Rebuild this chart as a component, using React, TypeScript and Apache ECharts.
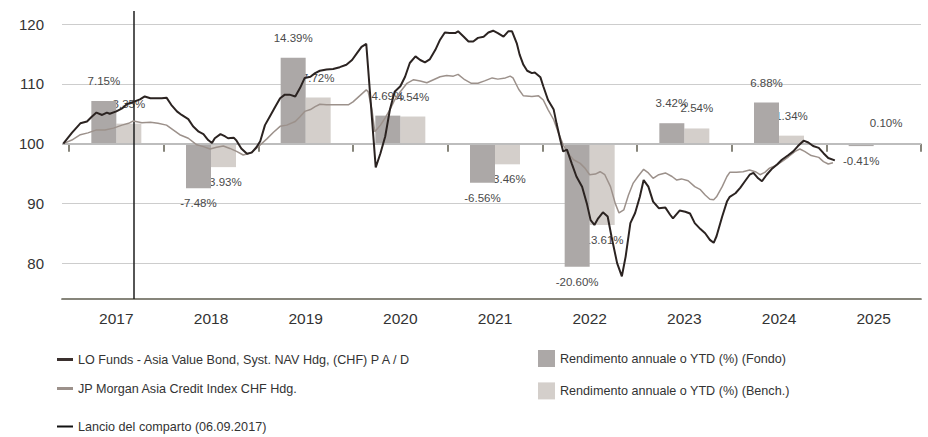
import React, { useEffect, useRef } from 'react';
import * as echarts from 'echarts';

const years = ['2017', '2018', '2019', '2020', '2021', '2022', '2023', '2024', '2025'];
const fundReturns = [7.15, -7.48, 14.39, 4.69, -6.56, -20.6, 3.42, 6.88, -0.41];
const benchReturns = [3.35, -3.93, 7.72, 4.54, -3.46, -13.61, 2.54, 1.34, 0.1];
const yTicks = [80, 90, 100, 110, 120];
const launchDate = 2017.682; // 06.09.2017 as fractional year

const fundName = 'LO Funds - Asia Value Bond, Syst. NAV Hdg, (CHF) P A / D';
const benchName = 'JP Morgan Asia Credit Index CHF Hdg.';
const fundBarName = 'Rendimento annuale o YTD (%) (Fondo)';
const benchBarName = 'Rendimento annuale o YTD (%) (Bench.)';
const launchName = 'Lancio del comparto (06.09.2017)';

// [fractional year, index value]
const fundLine: [number, number][] = [
  [2016.94, 100.0], [2017.03, 101.8], [2017.12, 103.4], [2017.19, 103.7], [2017.24, 104.5], [2017.29, 105.2],
  [2017.35, 104.8], [2017.4, 105.2], [2017.43, 105.0], [2017.5, 105.4], [2017.56, 105.9], [2017.61, 106.6],
  [2017.68, 107.0], [2017.75, 107.4], [2017.8, 107.9], [2017.86, 107.6], [2017.91, 107.6], [2017.98, 107.6],
  [2018.03, 107.7], [2018.08, 106.5], [2018.14, 105.4], [2018.19, 104.8], [2018.26, 104.1], [2018.31, 102.9],
  [2018.37, 102.0], [2018.42, 101.6], [2018.47, 100.6], [2018.51, 100.1], [2018.54, 100.9], [2018.6, 101.6],
  [2018.65, 101.2], [2018.68, 100.9], [2018.74, 101.0], [2018.77, 100.5], [2018.82, 99.2], [2018.88, 98.3],
  [2018.93, 98.5], [2018.98, 99.4], [2019.02, 100.4], [2019.07, 103.1], [2019.12, 104.5], [2019.18, 106.2],
  [2019.23, 107.6], [2019.28, 108.2], [2019.33, 108.2], [2019.39, 107.9], [2019.44, 109.3], [2019.49, 111.0],
  [2019.55, 111.2], [2019.6, 111.8], [2019.65, 112.2], [2019.72, 112.4], [2019.79, 112.5], [2019.86, 112.8],
  [2019.93, 113.2], [2019.99, 114.0], [2020.04, 115.1], [2020.09, 116.2], [2020.14, 116.7], [2020.24, 96.0],
  [2020.29, 98.4], [2020.34, 101.2], [2020.39, 105.7], [2020.44, 108.7], [2020.5, 109.6], [2020.55, 111.2],
  [2020.6, 113.5], [2020.66, 114.6], [2020.71, 114.0], [2020.76, 113.6], [2020.81, 114.1], [2020.87, 115.7],
  [2020.92, 117.4], [2020.97, 118.6], [2021.02, 118.5], [2021.08, 118.5], [2021.11, 118.8], [2021.17, 117.9],
  [2021.22, 117.1], [2021.27, 117.1], [2021.32, 117.7], [2021.38, 117.9], [2021.43, 118.6], [2021.48, 118.9],
  [2021.53, 118.5], [2021.59, 117.9], [2021.64, 118.8], [2021.68, 118.8], [2021.73, 116.8], [2021.76, 114.9],
  [2021.8, 113.2], [2021.84, 112.2], [2021.89, 111.8], [2021.92, 111.9], [2021.98, 111.1], [2022.01, 109.6],
  [2022.06, 107.3], [2022.12, 105.7], [2022.15, 103.4], [2022.19, 100.6], [2022.22, 98.7], [2022.26, 99.0],
  [2022.31, 96.7], [2022.36, 94.5], [2022.42, 92.8], [2022.47, 90.0], [2022.51, 87.2], [2022.55, 86.4],
  [2022.59, 87.5], [2022.64, 88.5], [2022.69, 87.8], [2022.73, 84.5], [2022.79, 80.0], [2022.84, 77.8],
  [2022.88, 81.1], [2022.93, 86.7], [2022.98, 88.4], [2023.03, 91.1], [2023.07, 93.9], [2023.12, 92.8],
  [2023.17, 90.3], [2023.23, 89.2], [2023.3, 89.3], [2023.35, 88.1], [2023.38, 87.5], [2023.45, 88.8],
  [2023.51, 88.6], [2023.56, 88.3], [2023.61, 86.7], [2023.67, 85.7], [2023.72, 85.0], [2023.77, 83.9],
  [2023.81, 83.4], [2023.84, 84.5], [2023.9, 87.8], [2023.95, 90.3], [2023.98, 91.1], [2024.04, 91.7],
  [2024.09, 92.6], [2024.14, 93.7], [2024.19, 94.8], [2024.23, 95.1], [2024.28, 94.2], [2024.32, 93.7],
  [2024.37, 94.8], [2024.42, 95.7], [2024.48, 96.5], [2024.53, 97.3], [2024.6, 98.1], [2024.65, 98.7],
  [2024.7, 99.6], [2024.76, 100.5], [2024.81, 100.2], [2024.86, 99.6], [2024.92, 99.3], [2024.97, 98.4],
  [2025.02, 97.6], [2025.09, 97.2],
];

const benchLine: [number, number][] = [
  [2016.94, 100.0], [2017.03, 100.6], [2017.12, 101.5], [2017.2, 101.8], [2017.29, 102.3], [2017.38, 102.3],
  [2017.47, 102.6], [2017.56, 103.1], [2017.63, 103.4], [2017.68, 103.8], [2017.77, 103.5], [2017.86, 103.6],
  [2017.94, 103.4], [2018.03, 103.1], [2018.1, 102.3], [2018.17, 101.5], [2018.26, 100.9], [2018.35, 99.8],
  [2018.42, 99.5], [2018.49, 99.1], [2018.56, 99.4], [2018.63, 99.6], [2018.7, 99.2], [2018.77, 98.7],
  [2018.84, 98.1], [2018.89, 98.3], [2018.95, 98.8], [2019.02, 99.8], [2019.09, 100.8], [2019.16, 101.9],
  [2019.23, 102.9], [2019.3, 103.1], [2019.39, 103.7], [2019.44, 104.5], [2019.49, 105.4], [2019.55, 105.7],
  [2019.6, 106.2], [2019.65, 106.6], [2019.72, 106.5], [2019.79, 106.5], [2019.88, 106.5], [2019.95, 106.5],
  [2020.0, 107.0], [2020.07, 108.0], [2020.14, 109.0], [2020.16, 108.7], [2020.2, 105.7], [2020.23, 102.0],
  [2020.29, 103.1], [2020.34, 104.3], [2020.39, 105.7], [2020.44, 107.3], [2020.5, 108.7], [2020.57, 110.1],
  [2020.64, 110.7], [2020.71, 110.5], [2020.78, 110.2], [2020.85, 110.7], [2020.92, 111.2], [2020.99, 111.4],
  [2021.06, 111.3], [2021.11, 111.6], [2021.18, 110.7], [2021.25, 110.1], [2021.32, 110.1], [2021.39, 110.5],
  [2021.47, 111.0], [2021.53, 110.8], [2021.61, 111.0], [2021.66, 111.3], [2021.69, 111.0], [2021.75, 109.1],
  [2021.8, 108.0], [2021.89, 107.9], [2021.96, 108.0], [2022.01, 107.3], [2022.06, 105.7], [2022.12, 104.0],
  [2022.17, 101.8], [2022.22, 99.8], [2022.27, 98.4], [2022.33, 97.3], [2022.4, 96.7], [2022.45, 95.9],
  [2022.5, 94.8], [2022.56, 94.9], [2022.61, 95.3], [2022.66, 94.8], [2022.72, 92.8], [2022.77, 90.0],
  [2022.81, 88.4], [2022.86, 88.9], [2022.91, 91.4], [2022.96, 93.4], [2023.01, 94.5], [2023.07, 95.7],
  [2023.12, 95.1], [2023.17, 94.2], [2023.23, 94.8], [2023.3, 95.1], [2023.37, 94.5], [2023.42, 93.9],
  [2023.47, 94.1], [2023.54, 93.8], [2023.61, 92.8], [2023.67, 92.3], [2023.72, 91.4], [2023.77, 90.7],
  [2023.81, 90.6], [2023.84, 91.1], [2023.9, 92.8], [2023.95, 94.5], [2023.98, 95.2], [2024.05, 95.2],
  [2024.12, 95.3], [2024.19, 95.6], [2024.25, 95.3], [2024.3, 94.8], [2024.35, 95.2], [2024.4, 95.9],
  [2024.46, 96.3], [2024.53, 97.0], [2024.6, 97.8], [2024.67, 98.7], [2024.72, 99.1], [2024.77, 98.7],
  [2024.84, 98.0], [2024.92, 97.7], [2024.97, 97.0], [2025.02, 96.6], [2025.07, 96.8],
];

const FONT = "'Liberation Sans', Arial, Helvetica, sans-serif";

const FUND_LINE_COLOR = '#2b2321';
const BENCH_LINE_COLOR = '#9c918b';
const FUND_BAR_COLOR = '#aca8a7';
const BENCH_BAR_COLOR = '#d4cfcb';
const AXIS_COLOR = '#5f5d4f';
const LABEL_COLOR = '#4a4a4a';

function barData(vals: number[]) {
  return vals.map((v) => ({
    value: v,
    label: { distance: v >= 0 ? 14 : 9, color: LABEL_COLOR },
  }));
}

const barLabel = {
  show: true,
  position: 'outside',
  fontFamily: FONT,
  fontSize: 11.5,
  color: LABEL_COLOR,
  textBorderWidth: 0,
  formatter: (p: any) => `${Number(p.value).toFixed(2)}%`,
};

const legendText = { fontFamily: FONT, fontSize: 12.6, color: '#333' };

export default function App() {
  const ref = useRef<HTMLDivElement>(null);

  useEffect(() => {
    document.body.style.margin = '0';
    if (!ref.current) return;
    const chart = echarts.init(ref.current, undefined, { renderer: 'svg' });
    const option: any = {
      animation: false,
      backgroundColor: '#ffffff',
      grid: [
        { left: 62, right: 7, top: 11, bottom: 138 },
        { left: 69, right: 7, top: 11, bottom: 138 },
      ],
      xAxis: [
        {
          type: 'value',
          gridIndex: 0,
          min: 2016.926,
          max: 2026.0,
          axisLine: { show: true, lineStyle: { color: AXIS_COLOR, width: 1.7 } },
          axisTick: { show: false },
          axisLabel: { show: false },
          splitLine: { show: false },
        },
        {
          type: 'category',
          gridIndex: 1,
          data: years,
          axisLine: { show: false },
          axisTick: { show: true, length: 8, lineStyle: { color: AXIS_COLOR, width: 1.5 } },
          axisLabel: { interval: 0, fontFamily: FONT, fontSize: 15.5, color: '#333', margin: 11 },
          splitLine: { show: false },
        },
      ],
      yAxis: [
        {
          type: 'value',
          gridIndex: 0,
          min: 74,
          max: 122.2,
          axisLine: { show: false },
          axisTick: { show: false, customValues: yTicks },
          axisLabel: { customValues: yTicks, fontFamily: FONT, fontSize: 15, color: '#333', margin: 18 },
          splitLine: { show: true, lineStyle: { color: '#cdcdcd', width: 1 } },
        },
        {
          type: 'value',
          gridIndex: 1,
          min: -26,
          max: 22.2,
          show: false,
          splitLine: { show: false },
        },
      ],
      legend: [
        {
          data: [fundName, benchName],
          orient: 'vertical',
          left: 57,
          top: 353,
          padding: 0,
          itemWidth: 16,
          itemHeight: 3,
          itemGap: 16,
          icon: 'rect',
          selectedMode: false,
          textStyle: legendText,
        },
        {
          data: [fundBarName, benchBarName],
          orient: 'vertical',
          left: 538,
          top: 350,
          padding: 0,
          itemWidth: 17,
          itemHeight: 17,
          itemGap: 15.4,
          icon: 'rect',
          selectedMode: false,
          textStyle: legendText,
        },
        {
          data: [launchName],
          orient: 'vertical',
          left: 57,
          top: 420,
          padding: 0,
          itemWidth: 16,
          itemHeight: 2,
          icon: 'rect',
          selectedMode: false,
          textStyle: legendText,
        },
      ],
      series: [
        {
          name: fundBarName,
          type: 'bar',
          xAxisIndex: 1,
          yAxisIndex: 1,
          barWidth: 25,
          barGap: '0%',
          z: 3,
          itemStyle: { color: FUND_BAR_COLOR },
          label: barLabel,
          data: barData(fundReturns),
        },
        {
          name: benchBarName,
          type: 'bar',
          xAxisIndex: 1,
          yAxisIndex: 1,
          barWidth: 25,
          barGap: '0%',
          z: 2,
          itemStyle: { color: BENCH_BAR_COLOR },
          label: barLabel,
          data: barData(benchReturns),
        },
        {
          name: benchName,
          type: 'line',
          xAxisIndex: 0,
          yAxisIndex: 0,
          z: 5,
          showSymbol: false,
          symbol: 'none',
          itemStyle: { color: BENCH_LINE_COLOR },
          lineStyle: { color: BENCH_LINE_COLOR, width: 1.5 },
          data: benchLine,
          markLine: {
            silent: true,
            symbol: ['none', 'none'],
            label: { show: false },
            lineStyle: { color: '#bdbdbd', width: 1.8, type: 'solid' },
            data: [{ yAxis: 100 }],
          },
        },
        {
          name: fundName,
          type: 'line',
          xAxisIndex: 0,
          yAxisIndex: 0,
          z: 6,
          showSymbol: false,
          symbol: 'none',
          itemStyle: { color: '#3a302e' },
          lineStyle: { color: FUND_LINE_COLOR, width: 2 },
          data: fundLine,
          markLine: {
            silent: true,
            symbol: ['none', 'none'],
            label: { show: false },
            lineStyle: { color: '#1e1e1e', width: 1.5, type: 'solid' },
            data: [{ xAxis: launchDate }],
          },
        },
        {
          name: launchName,
          type: 'line',
          xAxisIndex: 0,
          yAxisIndex: 0,
          symbol: 'none',
          itemStyle: { color: '#111111' },
          lineStyle: { color: '#111111', width: 1.5 },
          data: [],
        },
      ],
    };
    chart.setOption(option);
    return () => chart.dispose();
  }, []);

  return <div ref={ref} style={{ width: 928, height: 437 }} />;
}
